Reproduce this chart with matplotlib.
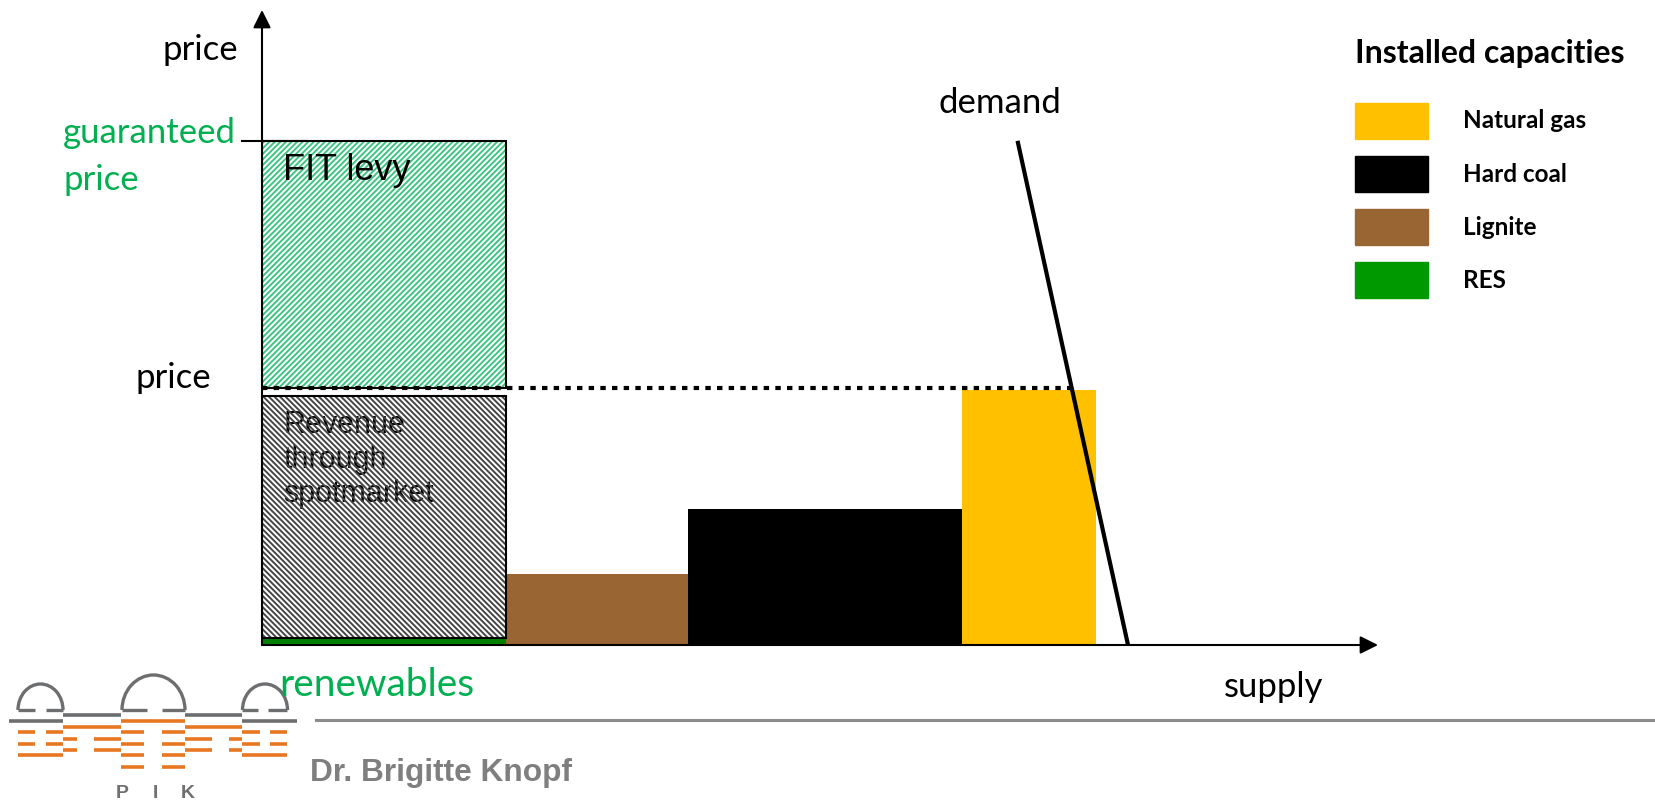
"""Merit-order sketch: feed-in tariff vs. spot market revenue for renewables."""
import numpy as np
import matplotlib
matplotlib.use("Agg")
import matplotlib.pyplot as plt
from matplotlib.patches import Rectangle, Arc

W, H = 1656, 802
plt.rcParams.update({"font.family": ["Lato", "DejaVu Sans"], "hatch.linewidth": 1.4})
GREEN_TXT, GREY = "#00B050", "#7f7f7f"

# ---- data (supply = installed capacity, cost = marginal price level) ----
techs = ["RES", "Lignite", "Hard coal", "Natural gas"]
capacity = [21.9, 16.3, 24.5, 12.0]
cost = [1.1, 11.2, 21.4, 40.2]
bar_colors = ["#008000", "#996633", "#000000", "#FFC000"]
spot_price = 40.5
revenue_top = 39.2
guaranteed_price = 79.4
demand_x = [67.7, 77.6]
demand_y = [79.4, 0.0]

legend_labels = ["Natural gas", "Hard coal", "Lignite", "RES"]
legend_colors = ["#FFC000", "#000000", "#996633", "#009900"]


def fx(px):
    return px / W


def fy(py):
    return 1 - py / H


fig = plt.figure(figsize=(W / 100, H / 100), dpi=100)

# main diagram axes: origin at the arrow corner
ax = fig.add_axes([fx(262), fy(645), fx(1378) - fx(262), fy(10) - fy(645)])
ax.set_xlim(0, 100); ax.set_ylim(0, 100); ax.axis("off")

left = np.concatenate([[0], np.cumsum(capacity)[:-1]])
ax.bar(left, cost, capacity, align="edge", color=bar_colors, zorder=2)

# renewables block: revenue through spot market (grey hatch, text under hatch)
res_w, res_h = capacity[0], cost[0]
ax.bar(0, revenue_top - res_h, res_w, bottom=res_h, align="edge", color="white", zorder=1)
for i, line in enumerate(["Revenue", "through", "spotmarket"]):
    ax.text(1.9, revenue_top - 4.6 - i * 5.4, line, family="Liberation Sans", fontsize=22,
            va="center", zorder=2)
ax.bar(0, revenue_top - res_h, res_w, bottom=res_h, align="edge", fill=False,
       edgecolor="#454545", hatch="\\\\\\\\\\\\", lw=0, zorder=3)
ax.bar(0, revenue_top - res_h, res_w, bottom=res_h, align="edge", fill=False,
       edgecolor="black", lw=1.5, zorder=4)

# FIT levy block (green hatch)
ax.bar(0, guaranteed_price - spot_price, res_w, bottom=spot_price, align="edge",
       color="white", edgecolor="#3cc581", hatch="//////", lw=0, zorder=1)
ax.bar(0, guaranteed_price - spot_price, res_w, bottom=spot_price, align="edge",
       fill=False, edgecolor="black", lw=1.5, zorder=4)
ax.text(1.9, guaranteed_price - 4.6, "FIT levy", family="Liberation Sans", fontsize=26,
        va="center", zorder=5)

# demand curve and market clearing price
ax.plot(demand_x, demand_y, color="black", lw=3, solid_capstyle="butt", zorder=5)
x_clear = demand_x[0] + (demand_y[0] - spot_price) / (demand_y[0] - demand_y[1]) * (demand_x[1] - demand_x[0])
ax.plot([0, x_clear], [spot_price, spot_price], color="black", lw=3,
        ls=(0, (1.3, 1.5)), zorder=5)
ax.plot([-1.8, 3.9], [guaranteed_price, guaranteed_price], color="black", lw=1.5,
        clip_on=False, zorder=5)

# axes arrows
arrow = dict(arrowstyle="-|>", lw=1.5, color="black", mutation_scale=27, shrinkA=0, shrinkB=0)
ax.annotate("", xy=(100, 0), xytext=(0, 0), arrowprops=arrow, zorder=6)
ax.annotate("", xy=(0, 100), xytext=(0, 0), arrowprops=arrow, zorder=6)

# labels
fig.text(fx(238), fy(50), "price", fontsize=25, ha="right", va="center")
fig.text(fx(211), fy(378), "price", fontsize=25, ha="right", va="center")
fig.text(fx(63), fy(133), "guaranteed", fontsize=25, color=GREEN_TXT, va="center")
fig.text(fx(63), fy(180), "price", fontsize=25, color=GREEN_TXT, va="center")
fig.text(fx(279), fy(685), "renewables", fontsize=28, color=GREEN_TXT, va="center")
fig.text(fx(1000), fy(103), "demand", fontsize=25, ha="center", va="center")
fig.text(fx(1274), fy(687), "supply", fontsize=25, ha="center", va="center")

# legend
fig.text(fx(1355), fy(53), "Installed capacities", fontsize=23, weight="bold", va="center")
for i, (lab, col) in enumerate(zip(legend_labels, legend_colors)):
    yc = 121 + i * 53
    fig.add_artist(Rectangle((fx(1355), fy(yc + 18)), fx(73), 36 / H, color=col,
                             transform=fig.transFigure))
    fig.text(fx(1463), fy(yc), lab, fontsize=17.5, weight="bold", va="center")

# footer: rule, author, PIK logo
deco = fig.add_axes([0, 0, 1, 1])
deco.set_xlim(0, W); deco.set_ylim(H, 0); deco.axis("off")
deco.plot([316, W], [720, 720], color="#8c8c8c", lw=2.2)
fig.text(fx(310), fy(773), "Dr. Brigitte Knopf", family="Liberation Sans", fontsize=22.8,
         weight="bold", color=GREY, va="center")

LG, LO = "#6d6e70", "#e87722"
for cx, wd, ht, feet in [(40.5, 45, 52, [(18, 35), (46, 63)]),
                         (153.5, 63, 70, [(122, 147), (162, 185)]),
                         (265, 45, 52, [(242, 258), (268, 287)])]:
    deco.add_patch(Arc((cx, 710), wd, ht, theta1=180, theta2=360, color=LG, lw=2.4))
    for a, b in feet:
        deco.plot([a, b], [710, 710], color=LG, lw=2.4, solid_capstyle="butt")
for (a, b, y, c) in [(9, 63, 721, LG), (63, 121, 715, LG), (121, 185, 721, LO),
                     (185, 242, 715, LG), (242, 297, 721, LG)]:
    deco.plot([a, b], [y, y], color=c, lw=2.6, solid_capstyle="butt")
rows = {727: [(63, 121), (185, 242)],
        732: [(18, 35), (46, 63), (121, 144), (162, 185), (242, 260), (270, 287)],
        739: [(63, 77), (94, 121), (185, 212), (229, 242)],
        744: [(18, 35), (46, 63), (121, 144), (162, 185), (242, 260), (270, 287)],
        750: [(63, 77), (94, 121), (185, 212), (229, 242)],
        755: [(18, 63), (121, 144), (162, 185), (242, 287)],
        767: [(121, 144), (162, 185)]}
for y, segs in rows.items():
    for a, b in segs:
        deco.plot([a, b], [y, y], color=LO, lw=2.6, solid_capstyle="butt")
for x, ch in zip([122, 155, 188], "PIK"):
    deco.text(x, 793, ch, family="Liberation Sans", fontsize=14, weight="bold",
              color="#707070", ha="center", va="center")

fig.savefig("out.png", dpi=100)
